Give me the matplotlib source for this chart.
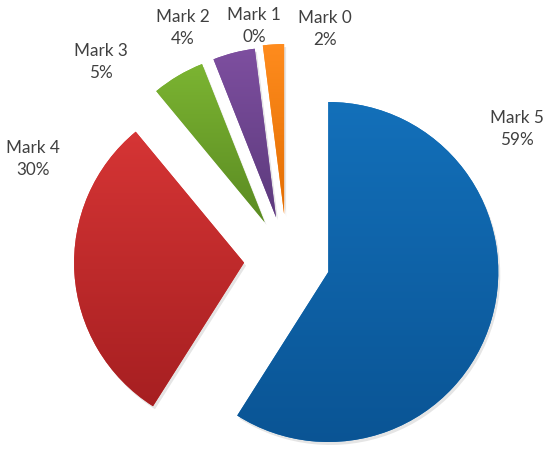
import numpy as np
import matplotlib
matplotlib.use("Agg")
import matplotlib.pyplot as plt
from matplotlib.colors import LinearSegmentedColormap

labels = ["Mark 0", "Mark 1", "Mark 2", "Mark 3", "Mark 4", "Mark 5"]
values = [2, 0, 4, 5, 30, 59]
top_colors = ["#FF8C1E", "#8E5CB0", "#7E4FA0", "#7CB532", "#D63535", "#1370BA"]
bot_colors = ["#E36E02", "#64427F", "#5C3A7C", "#5A8A22", "#A61F21", "#0A5494"]
label_pos = [(325, 29), (254, 26), (183, 28), (101, 62), (33, 159), (517, 129)]

W, H = 550, 451
fig = plt.figure(figsize=(5.5, 4.51), dpi=100)
ax = fig.add_axes([0, 0, 1, 1])

total = sum(values)
center = (287, H - 260)
radius = 170
explode = [46, 44, 44, 44, 43, 43]

# shadow
sh, _ = ax.pie(values, startangle=90, counterclock=True, radius=radius,
               center=(center[0] + 2, center[1] - 3), explode=explode,
               colors=["#000000"] * len(values), frame=True,
               wedgeprops=dict(linewidth=0, alpha=0.10))
wedges, _ = ax.pie(values, startangle=90, counterclock=True, radius=radius,
                   center=center, explode=explode, colors=top_colors, frame=True,
                   wedgeprops=dict(linewidth=0))

for w, v, c1, c2 in zip(wedges, values, top_colors, bot_colors):
    if v <= 0:
        continue
    path = w.get_path()
    verts = w.get_transform().transform(path.vertices)
    verts = ax.transData.inverted().transform(verts)
    x0, x1 = verts[:, 0].min(), verts[:, 0].max()
    y0, y1 = verts[:, 1].min(), verts[:, 1].max()
    cmap = LinearSegmentedColormap.from_list("g", [c2, c1])
    grad = np.linspace(0, 1, 256).reshape(-1, 1)
    im = ax.imshow(grad, cmap=cmap, extent=(x0 - 2, x1 + 2, y0 - 2, y1 + 2),
                   origin="lower", aspect="auto", zorder=w.get_zorder() + 0.1,
                   interpolation="bilinear")
    im.set_clip_path(w)

for lab, v, (x, y) in zip(labels, values, label_pos):
    ax.text(x, H - y, f"{lab}\n{round(v / total * 100):.0f}%", ha="center",
            va="center", fontsize=12.3, family="Lato", color="#404040",
            linespacing=1.5)

ax.set_xlim(0, W)
ax.set_ylim(0, H)
ax.set_aspect("equal")
ax.axis("off")
fig.savefig("out.png", dpi=100, facecolor="white")
